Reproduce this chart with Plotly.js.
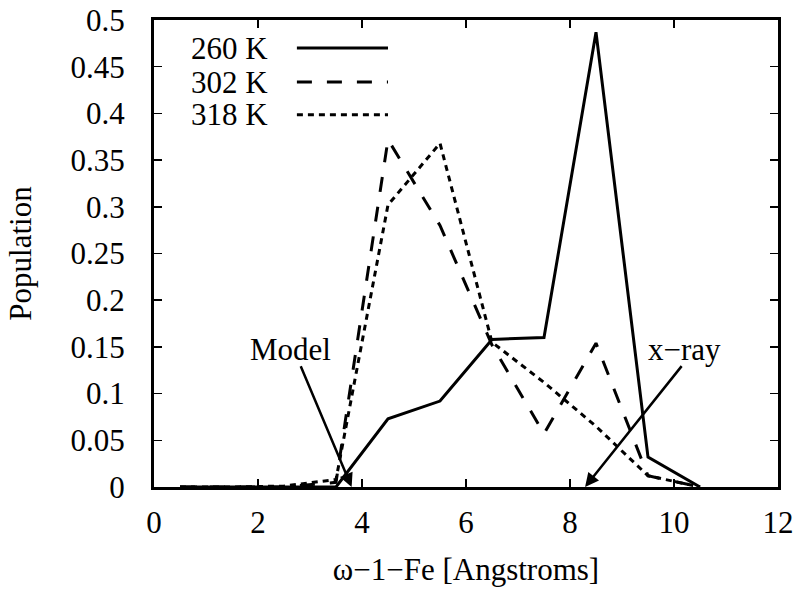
<!DOCTYPE html>
<html>
<head>
<meta charset="utf-8">
<script src="https://cdn.plot.ly/plotly-3.0.1.min.js"></script>
<style>
  body { margin: 0; background: #fff; }
  #chart { width: 800px; height: 598px; }
</style>
</head>
<body>
<div id="chart"></div>
<script>
// bin centres (Angstroms)
var distance = [0.5, 1.5, 2.5, 3.5, 4.5, 5.5, 6.5, 7.5, 8.5, 9.5, 10.5];

// population per temperature
var pop260 = [0, 0, 0, 0, 0.073, 0.092, 0.158, 0.160, 0.487, 0.032, 0];
var pop302 = [0, 0, 0, 0.005, 0.372, 0.280, 0.152, 0.057, 0.154, 0.012, 0];
var pop318 = [0, 0, 0.001, 0.008, 0.302, 0.368, 0.155, 0.112, 0.065, 0.012, 0];

var seriesNames = ['260 K', '302 K', '318 K'];
var xTicks = [0, 2, 4, 6, 8, 10, 12];
var yTicks = [0, 0.05, 0.1, 0.15, 0.2, 0.25, 0.3, 0.35, 0.4, 0.45, 0.5];
var yTickText = ['0', '0.05', '0.1', '0.15', '0.2', '0.25', '0.3', '0.35', '0.4', '0.45', '0.5'];

// annotation arrows: [label, text x, text y, tail x, tail y, tip x, tip y]
var modelArrow = ['Model', 2.62, 0.147, 2.81, 0.131, 3.8, 0];
var xrayArrow = ['x\u2212ray', 10.2, 0.147, 10.17, 0.131, 8.29, 0];

var serif = 'Liberation Serif, Times New Roman, serif';
var dashes = ['solid', '15px,15px', '6px,5px'];
var fs = 31;

var data = [pop260, pop302, pop318].map(function (ys, i) {
  return {
    x: distance,
    y: ys,
    name: seriesNames[i],
    type: 'scatter',
    mode: 'lines',
    showlegend: false,
    line: { color: 'black', width: 3, dash: dashes[i] }
  };
});

// gnuplot-style key: label on the left, line sample on the right
var keyY = [0.940, 0.867, 0.797];
var shapes = [];
var annotations = [];
seriesNames.forEach(function (nm, i) {
  annotations.push({
    xref: 'paper', yref: 'paper', x: 0.186, y: keyY[i],
    xanchor: 'right', yanchor: 'middle', text: nm, showarrow: false,
    font: { family: serif, size: fs, color: 'black' }
  });
  shapes.push({
    type: 'line', xref: 'paper', yref: 'paper',
    x0: 0.229, x1: 0.375, y0: keyY[i], y1: keyY[i],
    line: { color: 'black', width: 3, dash: dashes[i] }
  });
});

[modelArrow, xrayArrow].forEach(function (a) {
  annotations.push({
    x: a[1], y: a[2], text: a[0], showarrow: false,
    xanchor: 'center', yanchor: 'middle',
    font: { family: serif, size: fs, color: 'black' }
  });
  annotations.push({
    x: a[5], y: a[6], ax: a[3], ay: a[4], axref: 'x', ayref: 'y',
    text: '', showarrow: true, arrowhead: 2, arrowsize: 1.1, arrowwidth: 2.5,
    arrowcolor: 'black', standoff: 0
  });
});

var layout = {
  width: 800,
  height: 598,
  margin: { l: 154, r: 22, t: 20, b: 111 },
  paper_bgcolor: 'white',
  plot_bgcolor: 'white',
  font: { family: serif, size: fs, color: 'black' },
  xaxis: {
    range: [0, 12],
    tickvals: xTicks,
    ticks: 'inside', ticklen: 8, tickwidth: 1.5, tickcolor: 'black',
    ticklabelstandoff: 6,
    showgrid: false, zeroline: false,
    showline: true, linecolor: 'black', linewidth: 3, mirror: 'ticks',
    title: { text: '\u03c9\u22121\u2212Fe [Angstroms]', font: { family: serif, size: fs }, standoff: 20 }
  },
  yaxis: {
    range: [0, 0.5],
    tickvals: yTicks,
    ticktext: yTickText,
    ticks: 'inside', ticklen: 8, tickwidth: 1.5, tickcolor: 'black',
    ticklabelstandoff: 20,
    showgrid: false, zeroline: false,
    showline: true, linecolor: 'black', linewidth: 3, mirror: 'ticks',
    title: { text: 'Population', font: { family: serif, size: fs }, standoff: 30 }
  },
  shapes: shapes,
  annotations: annotations
};

Plotly.newPlot('chart', data, layout, { displayModeBar: false, staticPlot: true });
</script>
</body>
</html>
